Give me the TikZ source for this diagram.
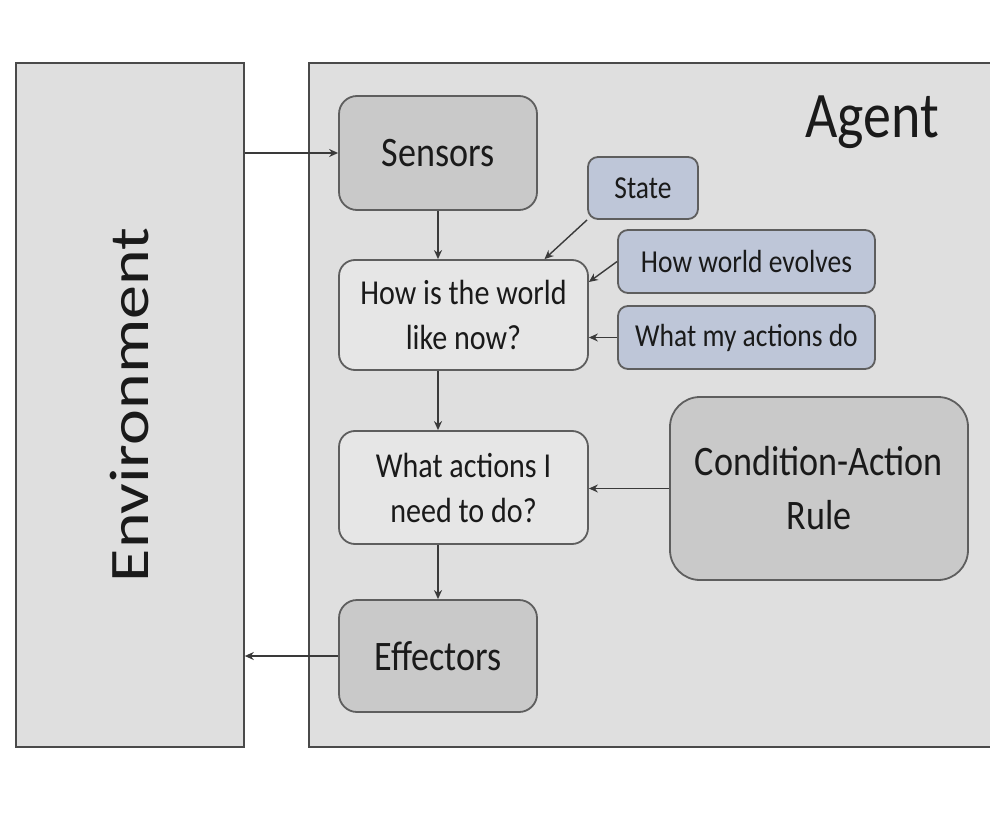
\documentclass[tikz,border=0pt]{standalone}
\usepackage{fontspec}
\setmainfont{Carlito}[FakeStretch=0.86]
\newfontfamily\envfont{Carlito}
\usetikzlibrary{arrows.meta,calc}
\definecolor{outerfill}{HTML}{DFDFDF}
\definecolor{outerdraw}{HTML}{4A4A4A}
\definecolor{darkfill}{HTML}{C9C9C9}
\definecolor{lightfill}{HTML}{E6E6E6}
\definecolor{bluefill}{HTML}{BEC6D8}
\definecolor{boxdraw}{HTML}{5E5E5E}
\definecolor{txt}{HTML}{1A1A1A}
\definecolor{arrcol}{HTML}{3A3A3A}
\tikzset{
  outer/.style={draw=outerdraw, line width=1.6pt, fill=outerfill, inner sep=0pt},
  graybox/.style={draw=boxdraw, line width=1.8pt, fill=darkfill, rounded corners=18pt, text=txt, align=center, inner sep=0pt},
  whitebox/.style={draw=boxdraw, line width=1.8pt, fill=lightfill, rounded corners=16pt, text=txt, align=center, inner sep=0pt, font=\fontsize{35}{45}\selectfont},
  bluebox/.style={draw=boxdraw, line width=1.8pt, fill=bluefill, rounded corners=10pt, text=txt, align=center, inner sep=0pt, font=\fontsize{32}{36}\selectfont},
  arr/.style={draw=arrcol, line width=1.4pt, -{Stealth[length=9pt,width=8pt]}},
}
\begin{document}
\begin{tikzpicture}[x=1pt,y=-1pt]
\useasboundingbox[fill=white] (0,0) rectangle (990,818);
% outer boxes
\node[outer, rotate=90, minimum width=684pt, minimum height=228pt, text=txt] (env) at (130,405)
  {\scalebox{1}[0.82]{\envfont\fontsize{68}{72}\selectfont Environment}};
\node[outer, minimum width=691pt, minimum height=684pt] (agent) at (654.5,405) {};
\node[text=txt, font=\fontsize{65}{70}\selectfont, inner sep=0pt] (agentlabel) at (872,122) {Agent};
% inner boxes
\node[graybox, minimum width=198pt, minimum height=114pt, font=\fontsize{42}{48}\selectfont] (sensors) at (438,153) {Sensors};
\node[whitebox, minimum width=249pt, minimum height=110pt] (how) at (463.5,315) {How is the world\\like now?};
\node[whitebox, minimum width=249pt, minimum height=113pt] (what) at (463.5,487.5) {What actions I\\need to do?};
\node[graybox, minimum width=198pt, minimum height=112pt, font=\fontsize{42}{48}\selectfont] (effectors) at (438,656) {Effectors};
\node[bluebox, minimum width=110pt, minimum height=62pt] (state) at (643,188) {State};
\node[bluebox, minimum width=257pt, minimum height=63pt] (evolves) at (746.5,261.5) {How world evolves};
\node[bluebox, minimum width=257pt, minimum height=63pt] (mydo) at (746.5,337.5) {What my actions do};
\node[graybox, rounded corners=30pt, minimum width=298pt, minimum height=183pt, font=\fontsize{42}{54}\selectfont] (cond) at (819,488.5) {Condition-Action\\Rule};
% connectors
\draw[arr] (env.south |- sensors.west) -- (sensors.west);
\draw[arr] (effectors.west) -- (env.south |- effectors.west);
\draw[arr] (sensors.south) -- (sensors.south |- how.north);
\draw[arr] (how.south -| sensors.south) -- (what.north -| sensors.south);
\draw[arr] (what.south -| effectors.north) -- (effectors.north);
\draw[arr] (state.south west) -- ($(how.north)+(81,0)$);
\draw[arr] (evolves.west) -- ($(how.east)+(0,-33)$);
\draw[arr] (mydo.west) -- (how.east |- mydo.west);
\draw[arr] (cond.west) -- (what.east |- cond.west);
\end{tikzpicture}
\end{document}
